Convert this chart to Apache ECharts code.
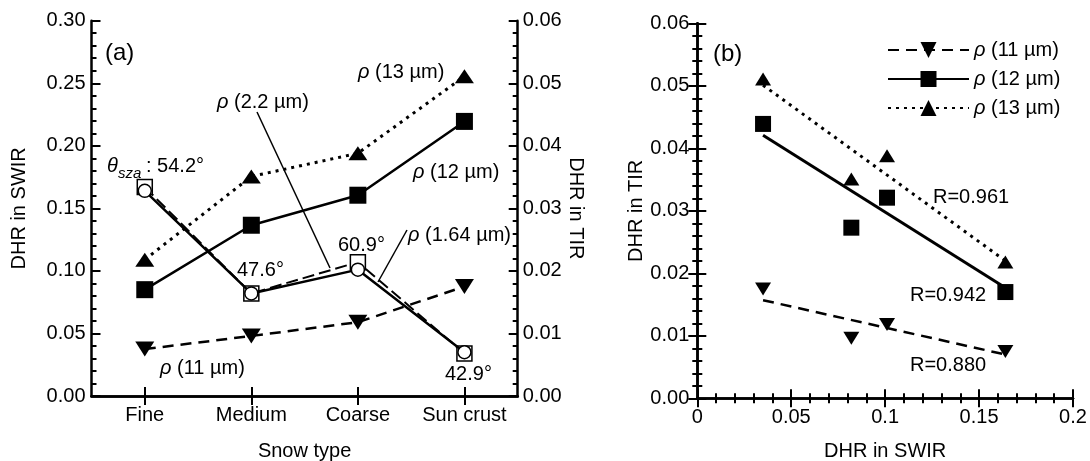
<!DOCTYPE html>
<html><head><meta charset="utf-8">
<script src="https://cdn.jsdelivr.net/npm/echarts@6/dist/echarts.min.js"></script>
<style>html,body{margin:0;padding:0;background:#fff}#c{width:1090px;height:461px}</style>
</head><body><div id="c"></div>
<script>
// ---- data ----
const categories = ['Fine', 'Medium', 'Coarse', 'Sun crust'];
const swirCircle = [0.164, 0.082, 0.101, 0.035];   // open circles, solid line
const swirSquare = [0.167, 0.082, 0.107, 0.034];   // open squares, dashed line
const tir11 = [0.0075, 0.0096, 0.0118, 0.0175];    // ρ(11 µm)
const tir12 = [0.0170, 0.0273, 0.0321, 0.0439];    // ρ(12 µm)
const tir13 = [0.0218, 0.0351, 0.0388, 0.0511];    // ρ(13 µm)
const fitX = [0.035, 0.164];
const fit11 = [0.0157, 0.0070];
const fit12 = [0.0421, 0.0177];
const fit13 = [0.0501, 0.0220];
const seriesNames = ['ρ (11 µm)', 'ρ (12 µm)', 'ρ (13 µm)'];
const rLabels = ['R=0.880', 'R=0.942', 'R=0.961'];

const FF = '"Liberation Sans", Arial, sans-serif';
const BLK = '#000';
const DOWN = 'path://M0,0 L10,0 L5,8.66 Z';
const pair = (xs, ys) => xs.map((x, i) => [x, ys[i]]);

const axisLine = {show: true, lineStyle: {color: BLK, width: 2.5}};
const tick = {show: true, inside: true, length: 9, lineStyle: {color: BLK, width: 2}};
const minor = {show: true, splitNumber: 5, length: 5, lineStyle: {color: BLK, width: 2}};
const lab = (m, fmt) => ({show: true, color: BLK, fontSize: 20, fontFamily: FF, margin: m, formatter: fmt});
const nameStyle = {color: BLK, fontSize: 20, fontFamily: FF};
const f2 = v => v.toFixed(2);

const chart = echarts.init(document.getElementById('c'), null, {renderer: 'canvas'});

const txt = (x, y, text, size, extra) => ({
  type: 'text', x: x, y: y, z: 100,
  style: Object.assign({
    text: text, fill: BLK, fontSize: size || 20, fontFamily: FF,
    verticalAlign: 'middle', align: 'left',
    rich: {r: {fontStyle: 'italic', fontSize: size || 20, fontFamily: FF, fill: BLK}}
  }, extra || {})
});
const ln = (x1, y1, x2, y2) => ({type: 'line', z: 100, shape: {x1, y1, x2, y2}, style: {stroke: BLK, lineWidth: 1.5}});

const catTick = Object.assign({alignWithLabel: true, interval: 0}, tick);
const catLab = Object.assign({interval: 0}, lab(9));

const option = {
  backgroundColor: '#fff',
  animation: false,
  grid: [
    {left: 91.5, top: 20.7, width: 426.2, height: 375.3, outerBoundsMode: 'none'},
    {left: 697.3, top: 23.3, width: 375.7, height: 375, outerBoundsMode: 'none'}
  ],
  xAxis: [
    {type: 'category', gridIndex: 0, position: 'bottom', data: categories, boundaryGap: true,
     axisLine, axisTick: catTick, axisLabel: catLab,
     name: 'Snow type', nameLocation: 'middle', nameGap: 45, nameTextStyle: nameStyle},
    {type: 'category', gridIndex: 0, position: 'top', data: categories, boundaryGap: true,
     axisLine, axisTick: catTick, axisLabel: {show: false}},
    {type: 'value', gridIndex: 1, position: 'bottom', min: 0, max: 0.2, interval: 0.05,
     axisLine, axisTick: tick, minorTick: minor, splitLine: {show: false}, minorSplitLine: {show: false},
     axisLabel: lab(9), name: 'DHR in SWIR', nameLocation: 'middle', nameGap: 43, nameTextStyle: nameStyle},
    {type: 'value', gridIndex: 1, position: 'top', min: 0, max: 0.2, interval: 0.05,
     axisLine, axisTick: tick, minorTick: minor, splitLine: {show: false}, minorSplitLine: {show: false},
     axisLabel: {show: false}}
  ],
  yAxis: [
    {type: 'value', gridIndex: 0, position: 'left', min: 0, max: 0.3, interval: 0.05,
     axisLine, axisTick: tick, minorTick: minor, splitLine: {show: false}, minorSplitLine: {show: false},
     axisLabel: lab(6, f2), name: 'DHR in SWIR', nameLocation: 'middle', nameGap: 62, nameRotate: 90, nameTextStyle: nameStyle},
    {type: 'value', gridIndex: 0, position: 'right', min: 0, max: 0.06, interval: 0.01,
     axisLine, axisTick: tick, minorTick: minor, splitLine: {show: false}, minorSplitLine: {show: false},
     axisLabel: lab(5, f2), name: 'DHR in TIR', nameLocation: 'middle', nameGap: 27, nameRotate: -90, nameTextStyle: nameStyle},
    {type: 'value', gridIndex: 1, position: 'left', min: 0, max: 0.06, interval: 0.01,
     axisLine, axisTick: tick, minorTick: minor, splitLine: {show: false}, minorSplitLine: {show: false},
     axisLabel: lab(8, f2), name: 'DHR in TIR', nameLocation: 'middle', nameGap: 31, nameRotate: 90, nameTextStyle: nameStyle},
    {type: 'value', gridIndex: 1, position: 'right', min: 0, max: 0.06, interval: 0.01,
     axisLine, axisTick: tick, minorTick: minor, splitLine: {show: false}, minorSplitLine: {show: false},
     axisLabel: {show: false}}
  ],
  legend: {
    show: true, orient: 'vertical', left: 887, top: 40, padding: 0,
    itemWidth: 81, itemHeight: 20, itemGap: 9,
    data: seriesNames,
    textStyle: {color: BLK, fontSize: 20, fontFamily: FF,
      rich: {r: {fontStyle: 'italic', fontSize: 20, fontFamily: FF, color: BLK}}},
    formatter: n => n.replace('ρ', '{r|ρ}')
  },
  series: [
    // panel (a) SWIR
    {type: 'line', xAxisIndex: 0, yAxisIndex: 0, data: swirSquare, symbol: 'rect', symbolSize: 15,
     itemStyle: {color: '#fff', borderColor: BLK, borderWidth: 1.5},
     lineStyle: {color: BLK, width: 2, type: [12, 5]}, z: 2},
    {type: 'line', xAxisIndex: 0, yAxisIndex: 0, data: swirCircle, symbol: 'circle', symbolSize: 13,
     itemStyle: {color: '#fff', borderColor: BLK, borderWidth: 1.5},
     lineStyle: {color: BLK, width: 2.5}, z: 3},
    // panel (a) TIR
    {type: 'line', xAxisIndex: 0, yAxisIndex: 1, data: tir11, symbol: DOWN, symbolSize: [19, 15],
     itemStyle: {color: BLK}, lineStyle: {color: BLK, width: 2.5, type: [11, 7]}, z: 4},
    {type: 'line', xAxisIndex: 0, yAxisIndex: 1, data: tir12, symbol: 'rect', symbolSize: 17,
     itemStyle: {color: BLK}, lineStyle: {color: BLK, width: 2.5}, z: 4},
    {type: 'line', xAxisIndex: 0, yAxisIndex: 1, data: tir13, symbol: 'triangle', symbolSize: [19, 14],
     itemStyle: {color: BLK}, lineStyle: {color: BLK, width: 3, type: [3, 5]}, z: 4},
    // panel (b) regression lines (legend entries)
    {name: seriesNames[0], type: 'line', xAxisIndex: 2, yAxisIndex: 2, data: pair(fitX, fit11),
     symbol: DOWN, showSymbol: false, itemStyle: {color: BLK}, lineStyle: {color: BLK, width: 2.5, type: [11, 7]}},
    {name: seriesNames[1], type: 'line', xAxisIndex: 2, yAxisIndex: 2, data: pair(fitX, fit12),
     symbol: 'rect', showSymbol: false, itemStyle: {color: BLK}, lineStyle: {color: BLK, width: 3}},
    {name: seriesNames[2], type: 'line', xAxisIndex: 2, yAxisIndex: 2, data: pair(fitX, fit13),
     symbol: 'triangle', showSymbol: false, itemStyle: {color: BLK}, lineStyle: {color: BLK, width: 3, type: [3, 5]}},
    // panel (b) points
    {type: 'scatter', xAxisIndex: 2, yAxisIndex: 2, data: pair(swirCircle, tir11), symbol: DOWN, symbolSize: [16, 13], itemStyle: {color: BLK, opacity: 1}},
    {type: 'scatter', xAxisIndex: 2, yAxisIndex: 2, data: pair(swirCircle, tir12), symbol: 'rect', symbolSize: 16, itemStyle: {color: BLK, opacity: 1}},
    {type: 'scatter', xAxisIndex: 2, yAxisIndex: 2, data: pair(swirCircle, tir13), symbol: 'triangle', symbolSize: [16, 13], itemStyle: {color: BLK, opacity: 1}}
  ],
  graphic: [
    txt(105, 53, '(a)', 24),
    txt(713, 54, '(b)', 24),
    txt(358, 72, '{r|ρ} (13 µm)'),
    txt(217, 102, '{r|ρ} (2.2 µm)'),
    txt(413, 172, '{r|ρ} (12 µm)'),
    txt(408, 235, '{r|ρ} (1.64 µm)'),
    txt(160, 368, '{r|ρ} (11 µm)'),
    txt(107, 166, 'θ', 20, {fontStyle: 'italic'}),
    txt(118, 174, 'sza', 15, {fontStyle: 'italic'}),
    txt(146, 166, ': 54.2°'),
    txt(237, 270, '47.6°'),
    txt(338, 245, '60.9°'),
    txt(445, 374, '42.9°'),
    txt(933, 197, rLabels[2]),
    txt(910, 295, rLabels[1]),
    txt(910, 365, rLabels[0]),
    ln(257, 112, 330, 268),
    ln(407, 230, 378, 282)
  ]
};
chart.setOption(option);
</script>
</body></html>
